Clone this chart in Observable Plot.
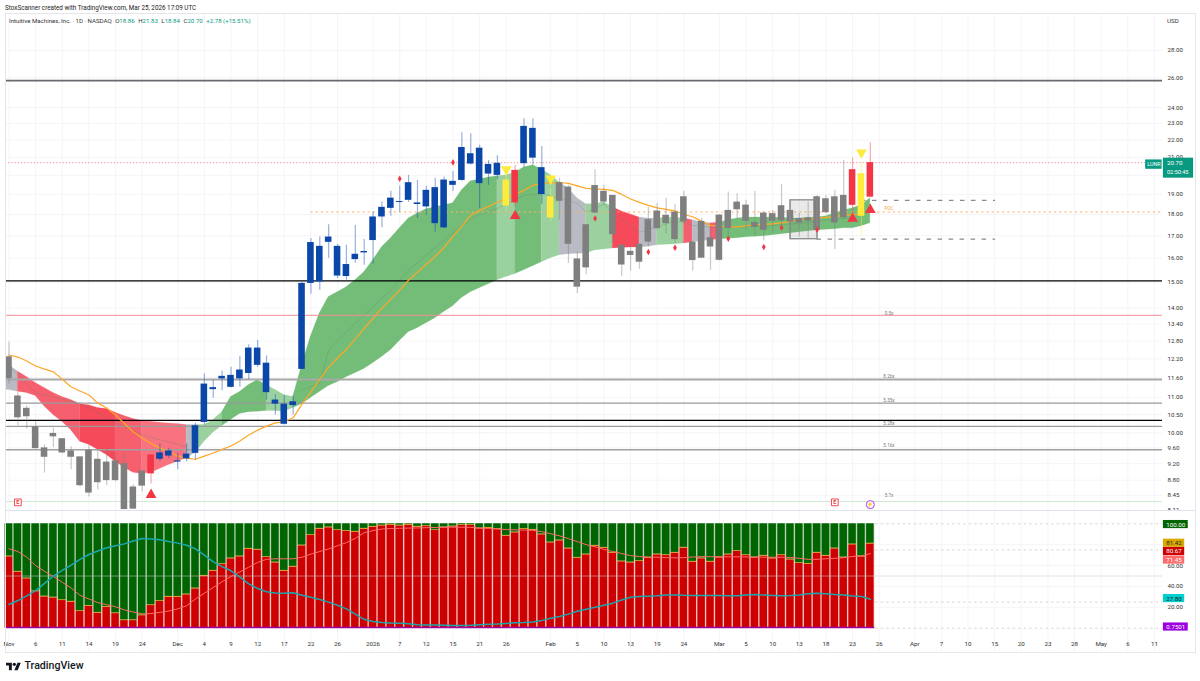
<!DOCTYPE html>
<html><head><meta charset="utf-8">
<style>
html,body{margin:0;padding:0;background:#fff;width:1200px;height:681px;overflow:hidden;font-family:Roboto,"Liberation Sans",sans-serif;color:#131722}
#wrap{position:relative;width:1200px;height:681px}
#head{position:absolute;left:5px;top:3.5px;font-size:6.3px;line-height:8px;white-space:nowrap;color:#222}
#top{position:absolute;left:0;top:13px}
#bot{position:absolute;left:0;top:511px}
#frame{position:absolute;left:5px;top:13px;width:1189px;height:638px;border:1px solid #e4e6ec;pointer-events:none}
#sep{position:absolute;left:5px;top:510px;width:1190px;height:1px;background:#e0e3eb}
#legend{position:absolute;left:9px;top:16.5px;font-size:6.1px;line-height:8px;white-space:nowrap;color:#333}
#legend b{font-weight:400;color:#089981}
#legend span{margin-right:3.5px}
#usd{position:absolute;left:1167px;top:17px;font-size:6.2px;line-height:8px;color:#333}
#logo{position:absolute;left:6px;top:660px;display:flex;align-items:center;gap:3.5px;font-size:10.6px;font-weight:500;color:#131722;line-height:12px}
svg{display:block;overflow:hidden}
</style>
<script src="https://cdn.jsdelivr.net/npm/d3@7"></script>
<script src="https://cdn.jsdelivr.net/npm/@observablehq/plot@0.6"></script>
</head><body>
<div id="wrap">
<div id="head">StoxScanner created with TradingView.com, Mar 25, 2026 17:09 UTC</div>
<div id="top"></div><div id="bot"></div>
<div id="sep"></div><div id="frame"></div>
<div id="legend"><span style="margin-right:3.5px">Intuitive Machines, Inc. · 1D · NASDAQ</span><span>O<b>18.86</b></span><span>H<b>21.83</b></span><span>L<b>18.84</b></span><span>C<b>20.70</b></span><b>+2.78 (+15.51%)</b></div>
<div id="usd">USD</div>
<div id="logo"><svg width="15" height="10" viewBox="0 0 36 24"><path fill="#131722" d="M14 22H7V11H0V4h14v18zM28 22h-8l7.5-18h8L28 22z"/><circle fill="#131722" cx="20" cy="8" r="4"/></svg><span>TradingView</span></div>
</div>
<script>
// ---------- price pane data ----------
const highs=[12.77,11.16,10.75,10.30,9.68,10.13,9.84,9.63,9.37,9.68,
9.55,9.60,9.47,9.47,8.69,9.02,9.42,9.71,9.59,9.47,
9.71,10.26,11.71,11.52,11.81,11.93,12.29,12.67,12.82,12.30,
11.08,11.05,11.04,14.99,16.87,16.94,17.51,16.60,16.57,17.48,
16.84,18.12,18.61,19.16,19.43,20.00,19.73,19.41,19.84,19.91,
20.21,22.43,22.37,21.69,20.82,21.08,20.00,20.55,23.30,23.30,
21.62,19.26,19.84,19.47,16.27,17.53,20.31,19.47,18.95,16.57,
16.52,16.61,18.36,18.55,18.80,18.50,19.16,16.75,17.82,17.34,
18.00,19.12,19.04,18.70,19.16,18.12,18.20,19.52,18.70,18.05,
18.61,18.95,18.95,19.21,20.82,20.95,20.73,21.83];
const bodyTops=[12.27,11.04,10.68,10.16,9.60,9.98,9.84,9.52,9.37,9.54,
9.31,9.24,9.27,9.20,8.64,9.02,9.42,9.47,9.52,9.27,
9.44,10.19,11.40,11.29,11.64,11.67,11.84,12.56,12.56,12.06,
10.92,10.80,10.87,14.95,16.69,16.52,16.94,16.52,15.73,16.17,
16.29,17.88,18.35,18.81,18.64,19.61,18.57,19.21,19.35,19.75,
19.68,21.56,21.20,21.52,20.60,20.66,19.75,20.27,22.82,22.70,
20.42,18.88,19.61,19.38,15.97,17.51,19.46,19.16,18.95,16.57,
16.30,16.61,17.75,18.17,17.96,18.12,18.88,16.71,17.67,16.91,
17.97,18.20,18.61,18.46,17.62,18.07,18.04,18.43,18.20,17.80,
17.84,18.88,18.78,18.88,18.95,20.31,20.09,20.70];
const bodyBottoms=[11.57,10.41,10.44,9.58,9.36,9.89,9.47,9.36,8.67,8.50,
8.74,8.79,8.79,8.13,8.14,8.66,8.95,9.31,9.39,9.24,
9.32,9.46,10.28,11.23,11.56,11.30,11.56,11.73,11.99,11.14,
10.80,10.23,10.76,11.86,14.95,15.01,16.70,15.25,15.23,15.94,
16.23,16.78,17.88,18.30,18.59,18.70,18.49,18.37,17.56,17.36,
19.47,19.73,20.62,19.56,20.07,20.00,18.41,18.57,20.64,20.95,
18.99,17.83,18.65,16.61,14.80,15.59,18.07,18.61,17.05,15.71,
16.12,15.83,16.71,17.33,17.56,16.82,17.64,15.90,16.00,16.49,
15.91,17.33,18.23,17.67,17.39,17.25,17.67,17.69,17.64,17.59,
17.69,17.25,18.09,17.59,17.84,18.45,17.91,18.86];
const lows=[11.40,10.19,10.10,9.58,8.97,9.61,9.45,9.05,8.64,8.41,
8.57,8.67,8.76,8.13,8.13,8.53,8.71,9.25,9.33,9.05,
9.25,9.29,10.21,10.97,11.20,11.28,11.30,11.54,11.93,10.92,
10.49,10.21,10.49,11.86,14.52,14.68,16.00,15.15,15.08,15.78,
15.70,15.74,17.37,17.92,18.12,18.60,17.80,17.96,17.17,17.33,
19.16,19.69,20.55,18.29,19.47,19.78,18.12,18.37,20.42,20.55,
18.50,17.64,17.72,15.78,14.55,15.29,18.04,18.45,16.65,15.22,
15.45,15.53,16.49,17.25,17.07,16.64,17.64,15.46,16.00,15.49,
15.88,16.79,17.80,17.25,16.94,16.76,17.10,17.33,16.88,16.94,
16.86,16.88,18.04,16.37,17.72,17.88,17.02,18.84];
const candleRuns=[["gray",16],["red",1],["blue",39],["yellow",1],["red",1],["blue",3],["yellow",1],["gray",33],["red",1],["yellow",1],["red",1]];
const candleColors={gray:"#7f7f7f",red:"#f23645",blue:"#0a47a9",yellow:"#ffeb3b"};

const ribbonTop=[12.00,11.79,11.62,11.43,11.28,11.13,11.01,10.92,10.80,10.77,
10.69,10.66,10.55,10.46,10.38,10.32,10.30,10.27,10.25,10.24,
10.21,10.21,10.21,10.35,10.57,11.01,11.16,11.37,11.52,11.37,
11.22,11.07,11.01,12.00,12.97,13.80,14.41,14.60,14.80,15.08,
15.41,15.91,16.48,16.88,17.34,17.81,18.05,18.25,18.35,18.45,
18.55,19.21,19.68,19.78,19.89,19.95,20.00,20.16,20.43,20.55,
20.33,20.00,19.62,19.31,18.80,18.50,18.50,18.60,18.35,18.15,
18.00,17.86,17.81,17.81,17.84,17.86,17.81,17.72,17.62,17.58,
17.60,17.72,17.81,17.86,17.86,17.86,17.86,17.84,17.81,17.81,
17.84,17.86,17.91,18.05,18.20,18.30,18.45,18.80];
const ribbonBottom=[11.22,11.17,11.13,11.04,10.73,10.49,10.30,10.07,9.76,9.68,
9.55,9.42,9.25,9.10,8.98,8.95,8.98,9.07,9.17,9.25,
9.34,9.47,9.76,10.00,10.18,10.35,10.52,10.57,10.58,10.60,
10.60,10.58,10.69,10.80,10.98,11.16,11.34,11.46,11.61,11.74,
11.87,12.06,12.26,12.49,12.80,13.11,13.25,13.43,13.61,13.84,
14.06,14.37,14.60,14.76,14.92,15.08,15.21,15.33,15.49,15.66,
15.83,16.00,16.13,16.17,16.19,16.21,16.34,16.38,16.43,16.45,
16.47,16.47,16.50,16.57,16.59,16.61,16.65,16.70,16.75,16.79,
16.84,16.86,16.88,16.93,16.95,16.97,17.02,17.07,17.11,17.16,
17.20,17.25,17.27,17.30,17.34,17.34,17.44,17.58];
const zoneRuns=[["g",1],["r",7],["R",4],["r",3],["p",5],["g",1],["l",3],["G",5],["l",3],["G",23],["l",2],["G",3],["l",2],["g",3],["l",3],["R",3],["g",2],["l",3],["r",1],["g",2],["r",1],["G",17]];
const zoneColors={g:"#b9bbc4",r:"#f55f6e",R:"#f6495a",p:"#f8737f",G:"#74bd78",l:"#9bd19e"};
const orangeLine=[12.33,12.26,12.13,11.97,11.87,11.78,11.55,11.31,11.19,11.07,
10.83,10.69,10.49,10.25,10.02,9.86,9.71,9.60,9.50,9.39,
9.34,9.31,9.39,9.47,9.56,9.65,9.78,9.94,10.07,10.18,
10.27,10.30,10.41,10.80,11.16,11.55,11.93,12.23,12.52,12.87,
13.25,13.61,13.99,14.33,14.68,15.08,15.41,15.74,16.08,16.47,
16.97,17.44,17.96,18.20,18.40,18.60,18.80,19.00,19.21,19.47,
19.57,19.60,19.62,19.57,19.44,19.31,19.29,19.26,19.21,19.00,
18.77,18.60,18.45,18.32,18.25,18.18,18.00,17.89,17.67,17.48,
17.44,17.41,17.41,17.46,17.51,17.53,17.55,17.60,17.67,17.74,
17.79,17.81,17.86,17.91,17.96,18.00,18.00];
const innerBars=[0,3,8,12,15,20,21,33,35,36,39,43,45,47,52,55,58,60,64,65,67,68,71,73,75,77,79,85,90,95];
const innerPrices=[11.97,11.13,10.83,10.27,9.94,9.63,null,11.22,11.43,12.49,13.43,14.68,15.49,16.13,17.81,18.30,18.95,19.05,18.55,18.12,18.50,18.05,17.16,17.39,17.72,17.48,17.39,17.44,17.62,17.86];

const priceTicks=[28,26,24,23,22,21,20,19,18,17,16,15,14,13.4,12.8,12.2,11.6,11,10.5,10,9.6,9.2,8.8,8.45,8.11];
const levelPrices=[25.82,15.05,13.72,11.54,10.83,10.34,10.17,9.55,8.31];
const levelColors=["#666a6e","#000000","#f28c94","#a8a8a8","#9a9a9a","#000000","#9a9a9a","#a0a0a0","#cfe8cf"];
const levelWidths=[1.7,1.3,1,2,1.3,1.3,1.2,1.4,1];
const levelTagPrices=[13.79,11.63,10.92,10.26,9.66,8.44,18.27];
const levelTagTexts=["0.5x","8.26x","5.35x","5.28x","5.16x","5.7x","POC"];
const lastClose=20.70, pocPrice=18.12, vahPrice=18.70, valPrice=16.84;

const upBars=[16,57,95,97], upPrices=[8.46,17.93,17.80,18.23];
const downBars=[56,61,96], downPrices=[20.32,19.82,21.27];
const dotBars=[44,50,66,72,75,81,85,87,91];
const dotPrices=[19.82,20.71,17.81,16.27,16.46,16.86,16.49,17.37,17.28];
const earningsBars=[1,93], eventPrice=8.29;

// ---------- oscillator pane data ----------
const oscRed=[68.4,53.7,47.3,35,30,29,26.5,25,16,21,
14.4,20,14,7.3,7.3,12,21.7,25.6,29.7,29.7,
32,37.7,49.8,54.6,61,66.5,68.4,75.7,74.8,67.7,
62.6,54.6,58.5,78.9,88.8,94.9,96.2,93.6,92.7,92,
94.9,96.8,98,98.7,98,98.7,96.8,97.4,93.6,96.2,
97.1,98.4,98.4,95.2,95.8,94.6,88.2,91.4,94.6,93.9,
89.5,81.8,83.7,76,67.1,70.3,78.6,76.7,71.9,63.6,
62.6,63.9,67.1,70.3,69.6,71.9,76.7,63.3,66.5,63.3,
67.4,70.3,73.5,69.6,67.4,69,66.5,69.6,65.5,62,
61.3,71.9,69,76,67.4,79.9,68.4,80.67];
const oscSalmon=[76,73.5,68,60,54.5,49.5,44,38.5,31.5,28,
24.5,22.5,20.5,17.5,15.5,13.8,14,15.2,16.5,18.5,
21.5,28,33.5,39,44.5,49.5,54,58.5,63,66,
66.5,66.5,66.5,68,71,73.5,76,79,82,86,
91.5,93.5,95,95.5,95.7,95.9,96,96.3,96.5,96.8,
96.8,96.8,96.6,96,95.5,95,94.5,94.2,94,93.7,
92.5,90.5,88.5,85.8,83,80,78,75.5,73.5,71.5,
69.5,68.7,68.2,68,67.6,67.4,67.6,68.2,68.6,68.5,
68.4,68.4,68.4,68.3,68.2,68,68,68,67.8,67,
66,66,66.5,67,67.5,68.8,69.3,71.45];
const oscTeal=[22.7,26.5,31,36,43,50,55.5,60.5,66,70.6,
74,77,79,80.8,83.5,86,85.5,84.7,83,81.5,
79.5,76,70,63.5,59,55,49,42.5,38,35,
33.7,33.5,33.9,31.5,29.7,27.5,25,22,18.5,13.5,
8.5,6.5,5.4,5,4.8,4.2,3.4,3.2,3,2.8,
2.7,2.7,2.9,3.4,3.8,4,4.6,5.2,5.4,6,
7.5,9.5,11.2,13.5,16.3,18.2,20,22,24,27,
29.7,30.3,30.7,31.1,31.8,31.9,31.5,31.4,31.3,31.3,
31.3,31.2,31,31.8,32.2,31.7,31.4,31,31.3,31.8,
33,33.5,33,32.2,31.8,30.8,30.4,27.8];
const oscCap=0.75, oscMax=100;
const oscTicks=[60,40,20];
const oscDashed=[100,75,25,0];
const tagTexts=["100.00","81.42","80.67","71.45","27.80","0.7501"];
const tagAt=[99.3,81.4,73.5,65.3,28.4,1.15];
const tagFills=["#006400","#d9a900","#cc0000","#ff6b6b","#00d0d0","#9c00e0"];
const tagInks=["#fff","#222","#fff","#fff","#111","#fff"];
const tagEnds=[132.8,132.4,132.4,132.4,132.4,132.8];

// ---------- time axis ----------
const timeTickBars=[0,3,6,9,12,15,19,22,25,28,31,34,37,41,44,47,50,53,56,61,64,67,70,73,76,80,83,86,89,92,95,98,102,105,108,111,114,117,120,123,126,129];
const timeTickLabels=["Nov","6","11","14","19","24","Dec","4","9","12","17","22","26","2026","7","12","15","21","26","Feb","5","10","13","19","24","Mar","5","10","13","18","23","26","Apr","7","10","15","20","23","28","May","6","11"];

// ---------- built tables ----------
const xDomain=[-0.394,129.9], bw=0.37, fontCss={fontFamily:"Roboto,'Liberation Sans',sans-serif",fontSize:"6.2px",background:"transparent"};
const candleKinds=candleRuns.flatMap(([k,n])=>Array(n).fill(k));
const bars=highs.map((h,i)=>({i,high:h,top:bodyTops[i],bottom:bodyBottoms[i],low:lows[i],fill:candleColors[candleKinds[i]]}));
let start=0;
const ribbonRows=zoneRuns.flatMap(([k,n],seg)=>{
  const rows=d3.range(start,start+n+1).map(i=>({i,seg,top:ribbonTop[i],bot:ribbonBottom[i],fill:zoneColors[k]}));
  start+=n;return rows;
});
ribbonRows.unshift({i:xDomain[0],seg:0,top:ribbonTop[0],bot:ribbonBottom[0],fill:zoneColors.g});
const orangeRows=orangeLine.map((v,i)=>({i,v}));
const innerRows=innerBars.map((b,i)=>({b,v:innerPrices[i]}));
const osc=oscRed.map((v,i)=>({i,red:v,cap:v+oscCap,salmon:oscSalmon[i],teal:oscTeal[i]}));

const pricePlot=Plot.plot({
  width:1200,height:498,marginLeft:5,marginRight:38,marginTop:0,marginBottom:1,style:fontCss,
  x:{domain:xDomain,axis:null},
  y:{type:"log",domain:[8.11,30.93],axis:null},
  color:{type:"identity"},
  marks:[
    Plot.ruleY(priceTicks,{stroke:"#f2f3f6",strokeWidth:.8}),
    Plot.ruleX(timeTickBars,{stroke:"#f2f3f6",strokeWidth:.8}),
    Plot.axisY(priceTicks,{anchor:"right",tickSize:0,tickPadding:5,tickFormat:d=>d.toFixed(2),fill:"#333",label:null}),
    Plot.areaY(ribbonRows,{x:"i",y1:"bot",y2:"top",fill:"fill",z:"seg",stroke:"fill",strokeWidth:.2,curve:"linear",clip:true}),
    Plot.line(innerRows,{x:"b",y:"v",stroke:"#5f7f5f",strokeOpacity:.35,strokeWidth:.8,curve:"linear",clip:true}),
    Plot.ruleY(levelPrices,{stroke:(d,i)=>levelColors[i],strokeWidth:(d,i)=>levelWidths[i]}),
    Plot.ruleY([lastClose],{stroke:"#f4737f",strokeWidth:.8,strokeDasharray:"1.2,2"}),
    Plot.ruleY([pocPrice],{x1:34,x2:xDomain[1],stroke:"#ffb060",strokeWidth:1.1,strokeDasharray:"2.2,3"}),
    Plot.ruleY([vahPrice],{x1:96,x2:111.1,stroke:"#8a8a8a",strokeWidth:1.2,strokeDasharray:"4.5,6.5"}),
    Plot.ruleY([valPrice],{x1:91,x2:111.1,stroke:"#8a8a8a",strokeWidth:1.2,strokeDasharray:"4.5,6.5"}),
    Plot.line(orangeRows,{x:"i",y:"v",stroke:"#ffa726",strokeWidth:1.2,curve:"linear"}),
    Plot.ruleX(bars,{x:"i",y1:"low",y2:"high",stroke:"fill",strokeOpacity:.42,strokeWidth:1.2,clip:true}),
    Plot.rect(bars,{x1:d=>d.i-bw,x2:d=>d.i+bw,y1:"bottom",y2:"top",fill:"fill",clip:true}),
    Plot.rect([0],{x1:88,x2:91.05,y1:valPrice,y2:vahPrice,fill:"#808080",fillOpacity:.17,stroke:"#8a8a8a",strokeWidth:1.3}),
    Plot.dot(upBars,{x:d=>d,y:(d,i)=>upPrices[i],symbol:"triangle",r:4,fill:"#f23645"}),
    Plot.dot(downBars,{x:d=>d,y:(d,i)=>downPrices[i],symbol:"triangle",rotate:180,r:4,fill:"#ffeb3b"}),
    Plot.dot(dotBars,{x:d=>d,y:(d,i)=>dotPrices[i],symbol:"diamond",r:2,fill:"#f23645"}),
    Plot.text(levelTagTexts,{x:99.1,y:(d,i)=>levelTagPrices[i],text:d=>d,fontSize:4.6,fill:(d,i)=>d==="POC"?"#f7a440":"#777"}),
    Plot.dot(earningsBars,{x:d=>d,y:eventPrice,symbol:"square",r:3.8,fill:"#fff",stroke:"#f23645",strokeWidth:.9}),
    Plot.text(earningsBars,{x:d=>d,y:eventPrice,text:()=>"E",fill:"#f23645",fontSize:5.5,fontWeight:700}),
    Plot.dot([97],{x:d=>d,y:8.24,r:4,fill:"#fff",stroke:"#a93cd9",strokeWidth:1}),
    Plot.text([97],{x:d=>d,y:8.24,text:()=>"⚡",fill:"#a93cd9",fontSize:5}),
    Plot.rect([0],{x1:128,x2:129.85,y1:20.33,y2:20.85,fill:"#089981"}),
    Plot.text(["LUNR"],{x:128.93,y:20.59,text:d=>d,fill:"#fff",fontSize:5.4}),
    Plot.rect([0],{x1:130,x2:133.4,y1:19.85,y2:20.95,fill:"#089981"}),
    Plot.text(["20.70"],{x:130.4,y:20.70,text:d=>d,fill:"#fff",textAnchor:"start"}),
    Plot.text(["02:50:45"],{x:130.4,y:20.15,text:d=>d,fill:"#fff",textAnchor:"start",fontSize:5.6})
  ]
});
document.getElementById("top").append(pricePlot);

const oscPlot=Plot.plot({
  width:1200,height:140,marginLeft:5,marginRight:38,marginTop:0,marginBottom:0,style:fontCss,
  x:{domain:xDomain,axis:null},
  y:{domain:[-22.3,111.8],axis:null},
  color:{type:"identity"},
  marks:[
    Plot.ruleY(oscTicks.concat([80]),{stroke:"#f2f3f6",strokeWidth:.8}),
    Plot.ruleX(timeTickBars,{stroke:"#f2f3f6",strokeWidth:.8}),
    Plot.ruleY(oscDashed,{x1:97.6,x2:xDomain[1],stroke:"#c9ccd1",strokeWidth:.8,strokeDasharray:"2.5,3"}),
    Plot.rect(osc,{x1:d=>d.i-.5,x2:d=>d.i+.5,y1:0,y2:"cap",fill:"#f3b0b0"}),
    Plot.rect(osc,{x1:d=>d.i-.5,x2:d=>d.i+.5,y1:"cap",y2:oscMax,fill:"#a4c4a4"}),
    Plot.rect(osc,{x1:d=>d.i-.42,x2:d=>d.i+.42,y1:0,y2:"red",fill:"#cc0000"}),
    Plot.rect(osc,{x1:d=>d.i-.42,x2:d=>d.i+.42,y1:"red",y2:"cap",fill:"#d9a900"}),
    Plot.rect(osc,{x1:d=>d.i-.42,x2:d=>d.i+.42,y1:"cap",y2:oscMax,fill:"#006400"}),
    Plot.ruleY([50],{stroke:"#c8c8c8",strokeOpacity:.55,strokeWidth:1}),
    Plot.ruleY([oscCap],{x1:-.4,x2:97.5,stroke:"#9c00a0",strokeWidth:1.6}),
    Plot.line(osc,{x:"i",y:"salmon",stroke:"#ff6b6b",strokeWidth:1}),
    Plot.line(osc,{x:"i",y:"teal",stroke:"#1ba7b0",strokeWidth:1.5}),
    Plot.axisY(oscTicks,{anchor:"right",tickSize:0,tickPadding:5,tickFormat:d=>d.toFixed(2),fill:"#333",label:null}),
    Plot.axisX(timeTickBars,{anchor:"bottom",tickSize:0,tickPadding:-10,tickFormat:d=>timeTickLabels[timeTickBars.indexOf(d)],fill:"#333",label:null}),
    Plot.rect(tagTexts,{x1:130,x2:(d,i)=>tagEnds[i],y1:(d,i)=>tagAt[i]-3.9,y2:(d,i)=>tagAt[i]+3.9,fill:(d,i)=>tagFills[i]}),
    Plot.text(tagTexts,{x:(d,i)=>(130+tagEnds[i])/2,y:(d,i)=>tagAt[i],text:d=>d,fill:(d,i)=>tagInks[i]})
  ]
});
document.getElementById("bot").append(oscPlot);
</script>
</body></html>
